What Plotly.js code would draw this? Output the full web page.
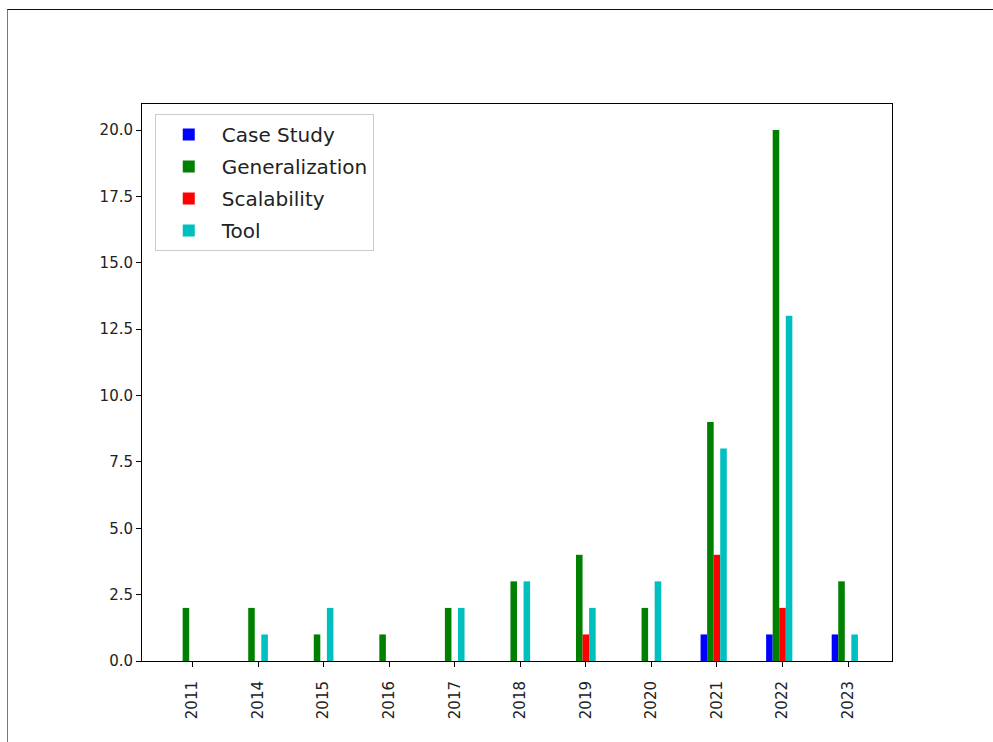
<!DOCTYPE html>
<html>
<head>
<meta charset="utf-8">
<script src="https://cdn.plot.ly/plotly-3.0.1.min.js"></script>
<style>
  html, body { margin: 0; padding: 0; background: #fff; }
  #wrap { position: relative; width: 993px; height: 742px; overflow: hidden; }
  #chart { position: absolute; left: 0; top: 0; width: 993px; height: 742px; }
  #frame { position: absolute; left: 7px; top: 9px; width: 1000px; height: 800px;
           border-top: 1px solid #111; border-left: 1px solid #777; pointer-events: none; }
</style>
</head>
<body>
<div id="wrap">
  <div id="chart"></div>
  <div id="frame"></div>
</div>
<script>
const years = ["2011", "2014", "2015", "2016", "2017", "2018", "2019", "2020", "2021", "2022", "2023"];
const caseStudy      = [0, 0, 0, 0, 0, 0, 0, 0, 1, 1, 1];
const generalization = [2, 2, 1, 1, 2, 3, 4, 2, 9, 20, 3];
const scalability    = [0, 0, 0, 0, 0, 0, 1, 0, 4, 2, 0];
const tool           = [0, 1, 2, 0, 2, 3, 2, 3, 8, 13, 1];

const seriesNames  = ["Case Study", "Generalization", "Scalability", "Tool"];
const seriesValues = [caseStudy, generalization, scalability, tool];
const seriesColors = ["#0000ff", "#008000", "#ff0000", "#00bfbf"];
const seriesOffsets = [-0.25, -0.15, -0.05, 0.05];

const traces = seriesNames.map((name, i) => ({
  type: "bar",
  name: name,
  x: years,
  y: seriesValues[i],
  width: 0.1,
  offset: seriesOffsets[i],
  marker: { color: seriesColors[i], line: { width: 0 } },
  legendgroup: "g" + i,
  hoverinfo: "x+y+name"
}));

const layout = {
  width: 993,
  height: 742,
  paper_bgcolor: "#ffffff",
  plot_bgcolor: "#ffffff",
  margin: { l: 142, r: 101, t: 104, b: 81, pad: 0 },
  barmode: "overlay",
  showlegend: true,
  font: { family: "DejaVu Sans, sans-serif", color: "#000", size: 14 },
  xaxis: {
    type: "category",
    range: [-0.77, 10.67],
    tickangle: -90,
    ticks: "outside",
    ticklen: 5,
    tickwidth: 1,
    tickcolor: "#000",
    ticklabelstandoff: 8,
    showline: true,
    linecolor: "#000",
    linewidth: 1,
    mirror: true,
    showgrid: false,
    zeroline: false,
    tickfont: { family: "DejaVu Sans, sans-serif", size: 15, color: "#222" }
  },
  yaxis: {
    range: [0, 20.98],
    tick0: 0,
    dtick: 2.5,
    tickformat: ".1f",
    ticks: "outside",
    ticklen: 5,
    tickwidth: 1,
    tickcolor: "#000",
    showline: true,
    linecolor: "#000",
    linewidth: 1,
    mirror: true,
    showgrid: false,
    zeroline: false,
    tickfont: { family: "DejaVu Sans, sans-serif", size: 15, color: "#222" }
  },
  legend: {
    x: 0.017,
    y: 0.982,
    xanchor: "left",
    yanchor: "top",
    bgcolor: "rgba(255,255,255,0.85)",
    bordercolor: "#cccccc",
    borderwidth: 1,
    font: { family: "DejaVu Sans, sans-serif", size: 20, color: "#222" },
    tracegroupgap: 3,
    itemwidth: 56,
    traceorder: "grouped"
  }
};

Plotly.newPlot("chart", traces, layout, { displayModeBar: false, staticPlot: true });
</script>
</body>
</html>
